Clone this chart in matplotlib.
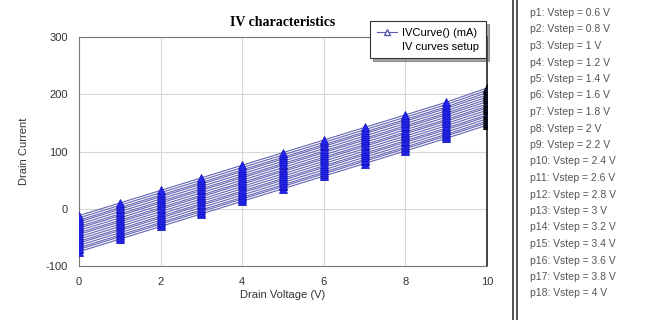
import matplotlib
matplotlib.use('Agg')
import matplotlib.pyplot as plt
from matplotlib.lines import Line2D

plt.rcParams['font.family'] = ['Liberation Sans', 'DejaVu Sans']
plt.rcParams['axes.unicode_minus'] = False

# drain voltage sweep points
vd = [0, 1, 2, 3, 4, 5, 6, 7, 8, 9, 10]

# step labels (p1..p18)
vstep = ['0.6', '0.8', '1', '1.2', '1.4', '1.6', '1.8', '2', '2.2',
         '2.4', '2.6', '2.8', '3', '3.2', '3.4', '3.6', '3.8', '4']

# drain current per step (mA)
p1 = [-75, -53, -31, -9, 13, 35, 57, 79, 101, 123, 146]
p2 = [-71, -49, -27, -5, 17, 39, 61, 83, 105, 127, 150]
p3 = [-68, -46, -24, -2, 20, 42, 64, 86, 108, 130, 153]
p4 = [-64, -42, -20, 2, 24, 46, 68, 90, 112, 134, 157]
p5 = [-60, -38, -16, 6, 28, 50, 72, 94, 116, 138, 161]
p6 = [-57, -35, -13, 9, 31, 53, 75, 97, 119, 141, 164]
p7 = [-53, -31, -9, 13, 35, 57, 79, 101, 123, 145, 168]
p8 = [-49, -27, -5, 17, 39, 61, 83, 105, 127, 149, 172]
p9 = [-45, -23, -1, 21, 43, 65, 87, 109, 131, 153, 176]
p10 = [-42, -20, 2, 24, 46, 68, 90, 112, 134, 156, 179]
p11 = [-38, -16, 6, 28, 50, 72, 94, 116, 138, 160, 183]
p12 = [-34, -12, 10, 32, 54, 76, 98, 120, 142, 164, 187]
p13 = [-31, -9, 13, 35, 57, 79, 101, 123, 145, 167, 191]
p14 = [-27, -5, 17, 39, 61, 83, 105, 127, 149, 171, 195]
p15 = [-23, -1, 21, 43, 65, 87, 109, 131, 153, 175, 199]
p16 = [-20, 2, 24, 46, 68, 90, 112, 134, 156, 178, 203]
p17 = [-16, 6, 28, 50, 72, 94, 116, 138, 160, 182, 207]
p18 = [-12, 10, 32, 54, 76, 98, 120, 142, 164, 186, 211]
curves = [p1, p2, p3, p4, p5, p6, p7, p8, p9, p10, p11, p12, p13, p14,
          p15, p16, p17, p18]

fig = plt.figure(figsize=(6.45, 3.2), dpi=100)
ax = fig.add_axes([79 / 645, 54 / 320, 408 / 645, 229 / 320])

for c in curves:
    ax.plot(vd, c, color='#6464b4', lw=0.8, zorder=2)
    ax.plot(vd[:-1], c[:-1], ls='none', marker='^', ms=5.5,
            mfc='#2424f0', mec='#1818c0', mew=0.6, zorder=3)
    ax.plot(vd[-1:], c[-1:], ls='none', marker='^', ms=5.5,
            mfc='#141430', mec='#000000', mew=0.6, zorder=3)

ax.set_xlim(0, 10)
ax.set_ylim(-100, 300)
ax.set_xticks([0, 2, 4, 6, 8, 10])
ax.set_yticks([-100, 0, 100, 200, 300])
ax.grid(True, color='#d8d8d8', lw=0.8)
ax.set_axisbelow(True)
ax.tick_params(length=0, labelsize=8, labelcolor='#333333', pad=8)
for s in ['left', 'bottom', 'top']:
    ax.spines[s].set_color('#777777')
ax.spines['right'].set_color('#222222')
ax.spines['right'].set_linewidth(1.2)

ax.set_xlabel('Drain Voltage (V)', fontsize=8, color='#333333', labelpad=2)
ax.set_ylabel('Drain Current', fontsize=8, color='#333333', labelpad=12)
ax.set_title('IV characteristics', fontsize=10, fontweight='bold',
             family='Liberation Serif', pad=8)

handles = [Line2D([], [], color='#5a5ab0', lw=0.8, marker='^', ms=4,
                  mfc='white', mec='#5a5ab0'),
           Line2D([], [], color='none')]
leg = fig.legend(handles, ['IVCurve() (mA)', 'IV curves setup'],
                 loc='upper right', bbox_to_anchor=(486 / 645, 1 - 21 / 320),
                 fontsize=8, frameon=True, fancybox=False, shadow=True,
                 handlelength=1.8, handletextpad=0.5, borderpad=0.6,
                 labelspacing=0.35, borderaxespad=0)
leg.get_frame().set_edgecolor('#333333')
leg.get_frame().set_linewidth(0.8)

# separator and step list on the right
fig.add_artist(Line2D([513 / 645, 513 / 645], [0, 1], color='#444444', lw=1.3))
fig.add_artist(Line2D([517 / 645, 517 / 645], [0, 1], color='#444444', lw=1.3))
for i, v in enumerate(vstep):
    fig.text(530 / 645, 1 - (13 + 16.5 * i) / 320, f'p{i + 1}: Vstep = {v} V',
             fontsize=7.5, color='#555555', va='center', ha='left')

fig.savefig('out.png', dpi=100)
